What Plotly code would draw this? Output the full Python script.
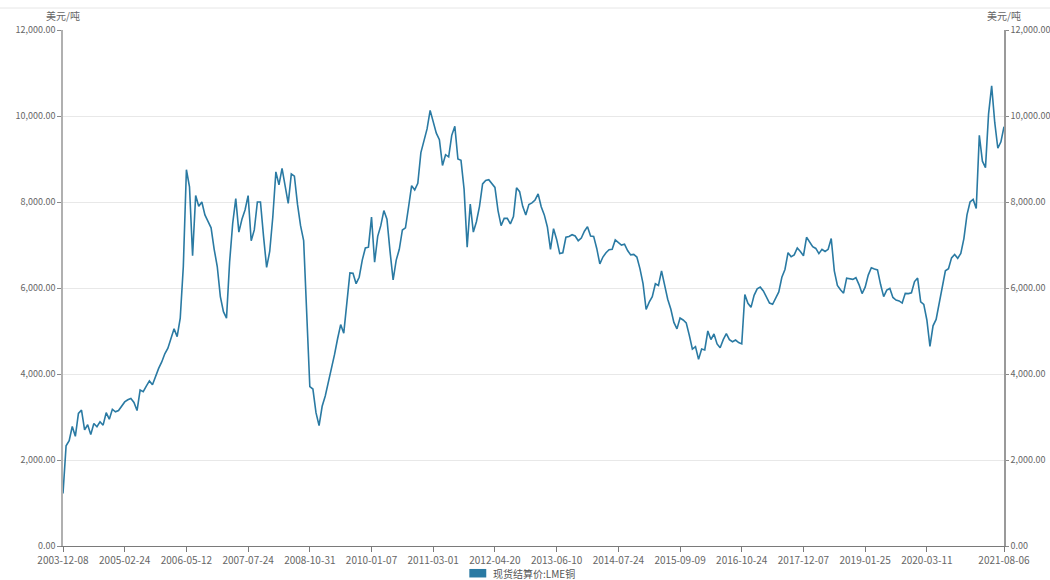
import pandas as pd
import plotly.graph_objects as go

# ---- data -----------------------------------------------------------------
tick_dates = ["2003-12-08", "2005-02-24", "2006-05-12", "2007-07-24", "2008-10-31",
              "2010-01-07", "2011-03-01", "2012-04-20", "2013-06-10", "2014-07-24",
              "2015-09-09", "2016-10-24", "2017-12-07", "2019-01-25", "2020-03-11",
              "2021-08-06"]
# number of sampled trading days between consecutive labelled dates
samples_per_interval = [20] * 14 + [25]

series_name = "现货结算价:LME铜"
unit = "美元/吨"

# LME copper spot settlement price (USD/t), one row per labelled interval
price = (
    [1220, 2330, 2450, 2780, 2550, 3085, 3160, 2700, 2820, 2590, 2850, 2775, 2890, 2810, 3100, 2950, 3180, 3120, 3150, 3250]
    + [3350, 3400, 3430, 3340, 3150, 3627, 3590, 3720, 3840, 3750, 3950, 4130, 4280, 4470, 4600, 4800, 5050, 4870, 5300, 6500]
    + [8750, 8350, 6750, 8150, 7900, 8000, 7700, 7550, 7400, 6900, 6500, 5800, 5450, 5300, 6600, 7500, 8080, 7300, 7600, 7814]
    + [8150, 7100, 7350, 8000, 8000, 7200, 6480, 6850, 7650, 8700, 8400, 8780, 8400, 7969, 8650, 8600, 7950, 7450, 7100, 5411]
    + [3705, 3650, 3100, 2800, 3250, 3490, 3800, 4171, 4450, 4820, 5150, 4950, 5600, 6350, 6341, 6100, 6250, 6650, 6930, 6950]
    + [7650, 6600, 7200, 7450, 7800, 7600, 6850, 6186, 6650, 6900, 7349, 7400, 7880, 8380, 8280, 8434, 9150, 9420, 9700, 10130]
    + [9850, 9600, 9450, 8850, 9100, 9050, 9550, 9760, 9000, 8970, 8300, 6950, 7950, 7300, 7540, 7900, 8420, 8500, 8520, 8420]
    + [8340, 7800, 7450, 7620, 7620, 7490, 7659, 8330, 8240, 7900, 7700, 7940, 7980, 8047, 8190, 7890, 7700, 7420, 6900, 7380]
    + [7130, 6800, 6820, 7180, 7200, 7240, 7210, 7100, 7160, 7320, 7427, 7210, 7200, 6920, 6560, 6720, 6820, 6890, 6900, 7117]
    + [7060, 7000, 7020, 6870, 6770, 6780, 6720, 6450, 6100, 5500, 5670, 5800, 6100, 6060, 6400, 6040, 5740, 5510, 5200, 5050]
    + [5300, 5256, 5190, 4900, 4580, 4636, 4340, 4580, 4560, 5000, 4800, 4930, 4700, 4610, 4800, 4940, 4800, 4750, 4790, 4730]
    + [4700, 5850, 5644, 5550, 5830, 5980, 6020, 5930, 5800, 5650, 5620, 5780, 5910, 6250, 6430, 6820, 6729, 6770, 6930, 6850]
    + [6750, 7180, 7080, 6962, 6920, 6800, 6900, 6850, 6900, 7150, 6400, 6060, 5960, 5880, 6230, 6220, 6200, 6240, 6080, 5870]
    + [6020, 6300, 6470, 6440, 6420, 6080, 5800, 5950, 5990, 5780, 5720, 5700, 5650, 5876, 5870, 5890, 6150, 6230, 5680, 5620]
    + [5256, 4640, 5120, 5270, 5643, 6000, 6400, 6450, 6700, 6780, 6690, 6806, 7150, 7700, 8000, 8060, 7850, 9550, 8950, 8800,
       10050, 10700, 9850, 9250, 9400]
    + [9750]
)

y_ticks = [0, 2000, 4000, 6000, 8000, 10000, 12000]

# ---- category dates (trading-day axis) ------------------------------------
dates = []
for i, n in enumerate(samples_per_interval):
    rng = pd.date_range(tick_dates[i], tick_dates[i + 1], periods=n + 1)
    dates += [d.strftime("%Y-%m-%d") for d in rng[:-1]]
dates.append(tick_dates[-1])
assert len(dates) == len(price)

# ---- figure ---------------------------------------------------------------
FONT = "Noto Sans CJK SC, Noto Sans, sans-serif"
LINE_COLOR = "#2a7aa3"

fig = go.Figure()
fig.add_trace(go.Scatter(x=dates, y=price, mode="lines", name=series_name,
                         line=dict(color=LINE_COLOR, width=1.6), showlegend=False))
fig.add_trace(go.Scatter(x=dates, y=price, mode="lines", yaxis="y2", name=series_name,
                         line=dict(color=LINE_COLOR, width=1.6), opacity=0,
                         showlegend=False, hoverinfo="skip"))

x_font = dict(family=FONT, size=10, color="#666666")
y_font = dict(family=FONT, size=9, color="#666666")

fig.update_layout(
    width=1050, height=580,
    margin=dict(l=63, r=46, t=30, b=34, autoexpand=False),
    paper_bgcolor="white", plot_bgcolor="white",
    font=dict(family=FONT, size=10, color="#666666"),
    showlegend=False,
    xaxis=dict(type="category", tickmode="array", tickvals=tick_dates, ticktext=tick_dates,
               range=[0, len(dates) - 1], showgrid=False, showline=True, automargin=False,
               linecolor="#7a7a7a", linewidth=1, ticks="outside", ticklen=5,
               tickcolor="#7a7a7a", tickfont=x_font, tickangle=0),
    yaxis=dict(range=[0, 12000], tickvals=y_ticks, tickformat=",.2f", automargin=False,
               showgrid=True, gridcolor="#e8e8e8", gridwidth=1, zeroline=False,
               showline=True, linecolor="#b0b0b0", linewidth=1.5,
               ticks="outside", ticklen=4, tickcolor="#8a8a8a", tickfont=y_font),
    yaxis2=dict(range=[0, 12000], tickvals=y_ticks, tickformat=",.2f", automargin=False,
                overlaying="y", side="right", anchor="x", showgrid=False, zeroline=False,
                showline=True, linecolor="#9a9a9a", linewidth=1.5,
                ticks="outside", ticklen=3, tickcolor="#8a8a8a", tickfont=y_font),
)

# axis unit titles above both y axes
for xpos in (0, 1):
    fig.add_annotation(text=unit, xref="paper", yref="paper", x=xpos, y=1,
                       xanchor="center", yanchor="bottom", yshift=5, showarrow=False,
                       font=dict(family=FONT, size=10, color="#666666"))

# faint top border line
fig.add_shape(type="line", xref="paper", yref="paper", x0=-0.07, x1=1.05,
              y0=1.0426, y1=1.0426, line=dict(color="#e6e6e6", width=1))

# legend (bottom centre): colour swatch + label
fig.add_shape(type="rect", xref="paper", yref="paper", x0=0.4318, x1=0.4498,
              y0=-0.0445, y1=-0.0610, line=dict(width=0), fillcolor=LINE_COLOR)
fig.add_annotation(text=series_name, xref="paper", yref="paper", x=0.4545, y=-0.0525,
                   xanchor="left", yanchor="middle", showarrow=False,
                   font=dict(family=FONT, size=10, color="#555555"))

fig.write_html("out.html", config={"displayModeBar": False},
               post_script="document.body.style.margin='0';document.body.style.overflow='hidden';")
